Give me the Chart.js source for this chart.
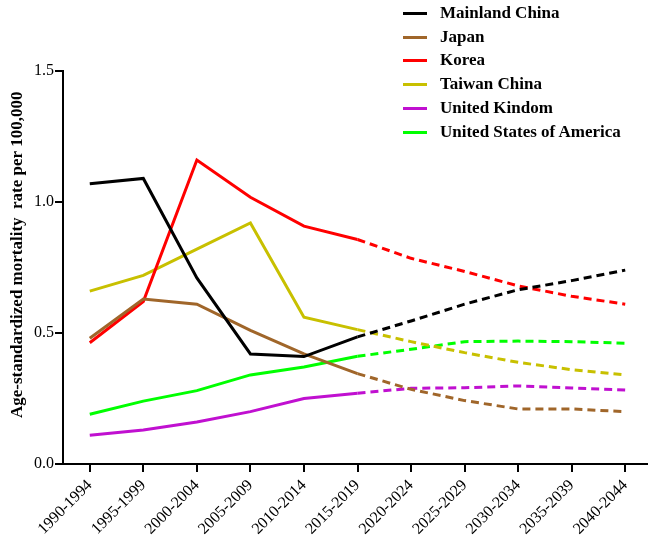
<!DOCTYPE html>
<html>
<head>
<meta charset="utf-8">
<script src="https://cdn.jsdelivr.net/npm/chart.js@4/dist/chart.umd.min.js"></script>
<style>
  html, body { margin: 0; padding: 0; background: #fff; overflow: hidden; }
  #wrap { position: relative; width: 648px; height: 545px; overflow: hidden; }
  #legend { position: absolute; left: 403px; top: 0; font: bold 17px "Liberation Serif", "Times New Roman", serif; color: #000; }
  #legend .row { position: absolute; left: 0; height: 20px; white-space: nowrap; }
  #legend .swatch { position: absolute; left: 0; top: 9px; width: 24px; height: 3px; }
  #legend .label { position: absolute; left: 37px; top: 0; line-height: 20px; }
</style>
</head>
<body>
<div id="wrap">
  <canvas id="chart" width="652" height="545"></canvas>
  <div id="legend"></div>
</div>
<script>
// periods on the x axis
const periods = [
  "1990-1994", "1995-1999", "2000-2004", "2005-2009", "2010-2014", "2015-2019",
  "2020-2024", "2025-2029", "2030-2034", "2035-2039", "2040-2044"
];

// rates per 100,000 (observed up to 2015-2019, projected after)
const mainlandChina = [1.07, 1.09, 0.71, 0.42, 0.41, 0.485, 0.546, 0.61, 0.665, 0.70, 0.74];
const japan = [0.48, 0.63, 0.61, 0.51, 0.42, 0.345, 0.285, 0.242, 0.21, 0.21, 0.20];
const korea = [0.463, 0.62, 1.16, 1.018, 0.908, 0.857, 0.785, 0.735, 0.68, 0.64, 0.61];
const taiwanChina = [0.66, 0.72, 0.82, 0.92, 0.56, 0.513, 0.467, 0.425, 0.388, 0.36, 0.34];
const unitedKingdom = [0.11, 0.13, 0.16, 0.20, 0.25, 0.27, 0.289, 0.291, 0.298, 0.29, 0.282];
const usa = [0.19, 0.24, 0.28, 0.34, 0.37, 0.411, 0.438, 0.467, 0.469, 0.467, 0.461];

const yTicks = [0, 0.5, 1.0, 1.5];
const lastObserved = 5; // index of 2015-2019

const series = [
  { label: "Mainland China", data: mainlandChina, color: "#000000" },
  { label: "Japan", data: japan, color: "#A0662A" },
  { label: "Korea", data: korea, color: "#FF0000" },
  { label: "Taiwan China", data: taiwanChina, color: "#C8C000" },
  { label: "United Kindom", data: unitedKingdom, color: "#C010D0" },
  { label: "United States of America", data: usa, color: "#00FF00" }
];

const serif = "'Liberation Serif', 'Times New Roman', serif";

new Chart(document.getElementById("chart"), {
  type: "line",
  data: {
    labels: periods,
    datasets: series.map(s => ({
      label: s.label,
      data: s.data,
      borderColor: s.color,
      backgroundColor: s.color,
      borderWidth: 3,
      pointRadius: 0,
      tension: 0,
      segment: {
        borderDash: ctx => ctx.p0DataIndex >= lastObserved ? [8, 5] : undefined
      }
    }))
  },
  options: {
    responsive: false,
    animation: false,
    layout: { padding: { top: 71, right: 0, bottom: 0, left: 0 } },
    plugins: {
      legend: { display: false },
      tooltip: { enabled: false }
    },
    scales: {
      x: {
        offset: true,
        afterFit: scale => { scale.height = 81; },
        grid: { display: true, drawOnChartArea: false, drawTicks: true, tickLength: 8, color: "#000", lineWidth: 2 },
        border: { color: "#000", width: 2 },
        ticks: {
          color: "#000",
          font: { family: serif, size: 16 },
          minRotation: 45,
          maxRotation: 45,
          autoSkip: false,
          padding: 4
        }
      },
      y: {
        min: 0,
        max: 1.5,
        afterFit: scale => { scale.width = 63; },
        afterBuildTicks: scale => { scale.ticks = yTicks.map(v => ({ value: v })); },
        grid: { display: true, drawOnChartArea: false, drawTicks: true, tickLength: 8, color: "#000", lineWidth: 2 },
        border: { color: "#000", width: 2 },
        ticks: {
          color: "#000",
          font: { family: serif, size: 16 },
          padding: 1,
          callback: v => Number(v).toFixed(1)
        },
        title: {
          display: true,
          text: "\u00a0\u00a0\u00a0\u00a0\u00a0\u00a0Age-standardized mortality  rate per 100,000",
          color: "#000",
          font: { family: serif, size: 17, weight: "bold" },
          padding: { top: 7, bottom: 0 }
        }
      }
    }
  }
});

// legend drawn as text in the top right corner
const legend = document.getElementById("legend");
series.forEach((s, i) => {
  const row = document.createElement("div");
  row.className = "row";
  row.style.top = (3 + i * 23.7) + "px";
  row.innerHTML = `<div class="swatch" style="background:${s.color}"></div><div class="label">${s.label}</div>`;
  legend.appendChild(row);
});
</script>
</body>
</html>
